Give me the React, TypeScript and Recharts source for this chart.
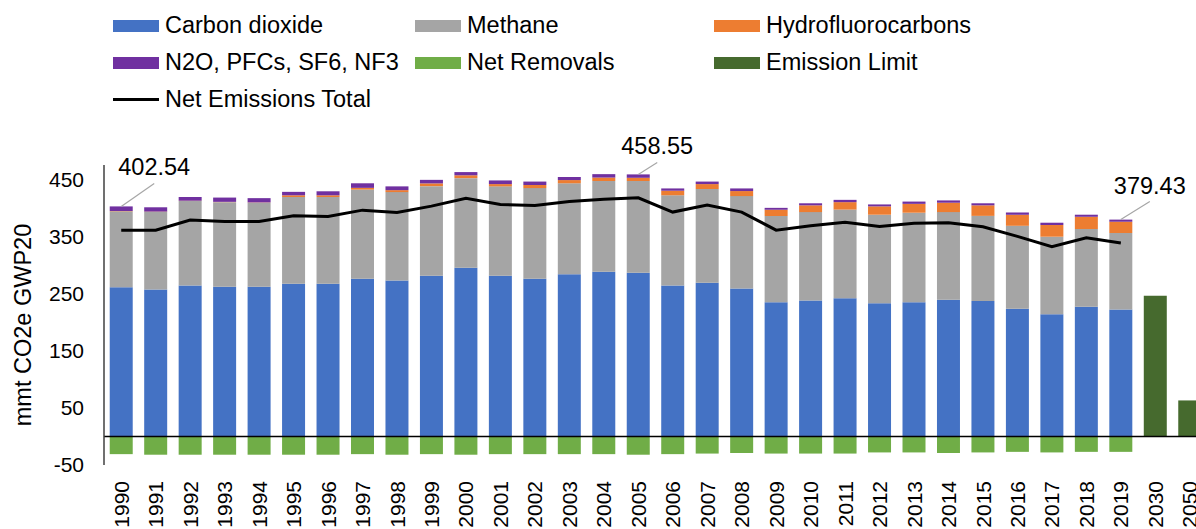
import { ComposedChart, Bar, Line, XAxis, YAxis, ReferenceLine, LabelList } from 'recharts'

const years = [
  '1990', '1991', '1992', '1993', '1994', '1995', '1996', '1997', '1998', '1999',
  '2000', '2001', '2002', '2003', '2004', '2005', '2006', '2007', '2008', '2009',
  '2010', '2011', '2012', '2013', '2014', '2015', '2016', '2017', '2018', '2019',
  '2030', '2050',
]
const carbonDioxide = [
  261, 257, 264, 262, 262, 267, 267, 276, 273, 281,
  295, 281, 276, 284, 288, 286.6, 264, 269, 259, 235,
  238, 242, 233, 235, 239, 237, 223.6, 213.8, 227, 222,
  null, null,
]
const methane = [
  133, 136, 148, 148, 147, 152, 152, 156, 154.6, 157,
  157, 156.6, 158.6, 159, 159, 160.4, 158, 164, 161.6, 150.7,
  154.6, 155, 155, 156.5, 153.6, 149, 145, 135.7, 136, 134,
  null, null,
]
const hydrofluorocarbons = [
  0.5, 0.5, 0.5, 0.5, 0.5, 3, 3, 3, 3.4, 4.8,
  5, 4, 5.4, 5.6, 6, 5.6, 8, 8.6, 8.8, 11,
  11.8, 13, 14.6, 15.5, 16.4, 18.4, 19.3, 20.5, 21.4, 19.7,
  null, null,
]
const otherGases = [
  8.04, 7.5, 6.5, 7.5, 7.5, 6, 7, 8, 6.6, 6.2,
  5.6, 6.4, 6, 5.4, 6, 5.95, 4, 4.4, 4.6, 3.3,
  3.6, 4, 3.4, 4, 4, 3.6, 4, 4, 3.6, 3.73,
  null, null,
]
const netRemovals = [
  -31, -32, -32, -32, -32, -32, -32, -31, -32, -31,
  -32, -31, -31, -31, -31, -32, -31, -30, -29, -30,
  -30, -30, -28, -28, -29, -28, -27, -28, -27, -27,
  null, null,
]
const emissionLimit = [
  null, null, null, null, null, null, null, null, null, null,
  null, null, null, null, null, null, null, null, null, null,
  null, null, null, null, null, null, null, null, null, null,
  246, 63,
]
const netEmissionsTotal = [
  361, 361, 378.6, 376, 376, 386, 385, 396, 392, 403,
  416.6, 406, 404, 411, 415, 417.7, 392.6, 405, 392.6, 361,
  368.7, 375, 367.6, 373, 374, 367, 350, 332, 347.7, 338.5,
  null, null,
]
const calloutYears = ['1990', '2005', '2019']
const calloutLabels = ['402.54', '458.55', '379.43']
const yTicks = [-50, 50, 150, 250, 350, 450]

const data = years.map((year, i) => {
  const c = calloutYears.indexOf(year)
  return {
    year,
    co2: carbonDioxide[i],
    ch4: methane[i],
    hfc: hydrofluorocarbons[i],
    other: otherGases[i],
    removals: netRemovals[i],
    limit: emissionLimit[i],
    total: netEmissionsTotal[i],
    callout: c >= 0 ? calloutLabels[c] : null,
  }
})

const FONT = '"Liberation Sans", Arial, Helvetica, sans-serif'

// leader-line offsets (px) for the three callouts
const calloutOffsets: Record<string, [number, number]> = {
  '1990': [33, 23],
  '2005': [19, 12],
  '2019': [29, 18],
}

const legendItems = [
  { label: 'Carbon dioxide', color: '#4472C4' },
  { label: 'Methane', color: '#A5A5A5' },
  { label: 'Hydrofluorocarbons', color: '#ED7D31' },
  { label: 'N2O, PFCs, SF6, NF3', color: '#7030A0' },
  { label: 'Net Removals', color: '#70AD47' },
  { label: 'Emission Limit', color: '#466A2E' },
  { label: 'Net Emissions Total', color: '#000000', line: true },
]

function Callout(props: any) {
  const vb = props.viewBox || props
  const { value, index } = props
  if (!value) return null
  const [dx, dy] = calloutOffsets[years[index]] || [25, 18]
  const cx = vb.x + vb.width / 2
  const top = vb.y
  return (
    <g>
      <line x1={cx} y1={top} x2={cx + dx} y2={top - dy} stroke="#A6A6A6" strokeWidth={1.2} />
      <text x={cx + dx} y={top - dy - 8} textAnchor="middle" fontSize={23.5} fontFamily={FONT} fill="#000">
        {value}
      </text>
    </g>
  )
}

function YearTick({ x, y, payload }: any) {
  return (
    <text
      x={x}
      y={y}
      transform={`rotate(-90, ${x}, ${y})`}
      textAnchor="end"
      dy="0.36em"
      fontSize={21}
      fontFamily={FONT}
      fill="#000"
    >
      {payload.value}
    </text>
  )
}

function AxisTitle({ viewBox }: any) {
  const cx = 23
  const cy = viewBox.y + viewBox.height / 2 + 10
  return (
    <text
      x={cx}
      y={cy}
      transform={`rotate(-90, ${cx}, ${cy})`}
      textAnchor="middle"
      dominantBaseline="central"
      fontSize={23.5}
      fontFamily={FONT}
      fill="#000"
    >
      mmt CO2e GWP20
    </text>
  )
}

export default function App() {
  return (
    <div style={{ position: 'fixed', left: 0, top: 0, width: 1196, height: 529, overflow: 'hidden', background: '#fff' }}>
      <div
        style={{
          position: 'absolute',
          left: 113,
          top: 7,
          display: 'grid',
          gridTemplateColumns: '302px 299px 260px',
          gridAutoRows: '37px',
          fontFamily: FONT,
          fontSize: 23.5,
          color: '#000',
          zIndex: 2,
        }}
      >
        {legendItems.map((it) => (
          <div key={it.label} style={{ display: 'flex', alignItems: 'center', whiteSpace: 'nowrap' }}>
            <span
              style={{
                display: 'inline-block',
                width: 46,
                height: it.line ? 3 : 12,
                background: it.color,
                marginRight: 6,
              }}
            />
            <span style={{ lineHeight: 1 }}>{it.label}</span>
          </div>
        ))}
      </div>
      <div style={{ position: 'absolute', left: 0, top: 0 }}>
        <ComposedChart
          width={1207}
          height={529}
          data={data}
          stackOffset="sign"
          barCategoryGap="16.6%"
          margin={{ top: 165, right: 0, bottom: 0, left: 0 }}
        >
          <XAxis
            dataKey="year"
            axisLine={false}
            tickLine={false}
            tickSize={0}
            tickMargin={16}
            interval={0}
            height={64}
            tick={<YearTick />}
          />
          <YAxis
            width={104}
            domain={[-50, 475]}
            ticks={yTicks}
            allowDataOverflow
            axisLine={{ stroke: '#404040', strokeWidth: 1.5 }}
            tickLine={false}
            tickSize={0}
            tickMargin={20}
            tick={{ fontSize: 21, fontFamily: FONT, fill: '#000' }}
            label={<AxisTitle />}
          />
          <Bar dataKey="co2" stackId="g" fill="#4472C4" isAnimationActive={false} />
          <Bar dataKey="ch4" stackId="g" fill="#A5A5A5" isAnimationActive={false} />
          <Bar dataKey="hfc" stackId="g" fill="#ED7D31" isAnimationActive={false} />
          <Bar dataKey="other" stackId="g" fill="#7030A0" isAnimationActive={false}>
            <LabelList dataKey="callout" content={<Callout />} />
          </Bar>
          <Bar dataKey="removals" stackId="g" fill="#70AD47" isAnimationActive={false} />
          <Bar dataKey="limit" stackId="g" fill="#466A2E" isAnimationActive={false} />
          <ReferenceLine y={0} stroke="#000" strokeWidth={1.5} />
          <Line
            dataKey="total"
            type="linear"
            stroke="#000"
            strokeWidth={3}
            dot={false}
            connectNulls={false}
            isAnimationActive={false}
          />
        </ComposedChart>
      </div>
    </div>
  )
}
